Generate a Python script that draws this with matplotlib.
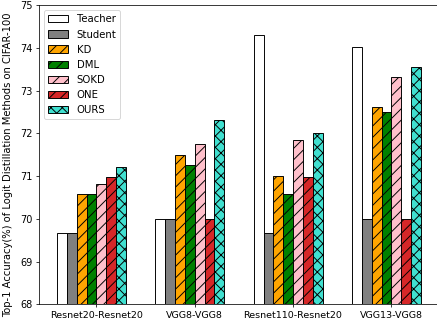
import matplotlib
matplotlib.use("Agg")
import matplotlib.pyplot as plt
import numpy as np

pairs = ["Resnet20-Resnet20", "VGG8-VGG8", "Resnet110-Resnet20", "VGG13-VGG8"]
methods = ["Teacher", "Student", "KD", "DML", "SOKD", "ONE", "OURS"]

teacher = [69.67, 70.00, 74.30, 74.03]
student = [69.67, 70.00, 69.67, 70.00]
kd = [70.58, 71.50, 71.00, 72.62]
dml = [70.58, 71.25, 70.58, 72.50]
sokd = [70.82, 71.76, 71.85, 73.33]
one = [70.98, 70.00, 70.98, 70.00]
ours = [71.22, 72.31, 72.00, 73.55]

series = [teacher, student, kd, dml, sokd, one, ours]
colors = ["white", "grey", "orange", "green", "pink", "tab:red", "turquoise"]
hatches = ["", "", "//", "//", "//", "//", "xx"]

dpi = 437 / 6.4
fig = plt.figure(figsize=(6.4, 327 / dpi), dpi=dpi)
ax = fig.add_axes([39 / 437, 22.7 / 327, 400 / 437, 299 / 327])

x = np.arange(len(pairs))
width = 0.1
n = len(series)
for i, (vals, name, c, h) in enumerate(zip(series, methods, colors, hatches)):
    ax.bar(x + (i - n / 2) * width, vals, width, label=name, color=c,
           edgecolor="black", hatch=h, linewidth=1.0)

ax.set_ylim(68, 75)
ax.set_xlim(-0.585, 3.485)
ax.set_xticks(x)
ax.set_xticklabels(pairs, fontsize=10)
ax.tick_params(axis="y", labelsize=10.3)
ax.set_ylabel("Top-1 Accuracy(%) of Logit Distillation Methods on CIFAR-100",
              fontsize=10.6)
ax.yaxis.set_label_coords(-0.066, 0.468)
ax.legend(loc="upper left", fontsize=10.7)

fig.savefig("out.png", dpi=dpi)
